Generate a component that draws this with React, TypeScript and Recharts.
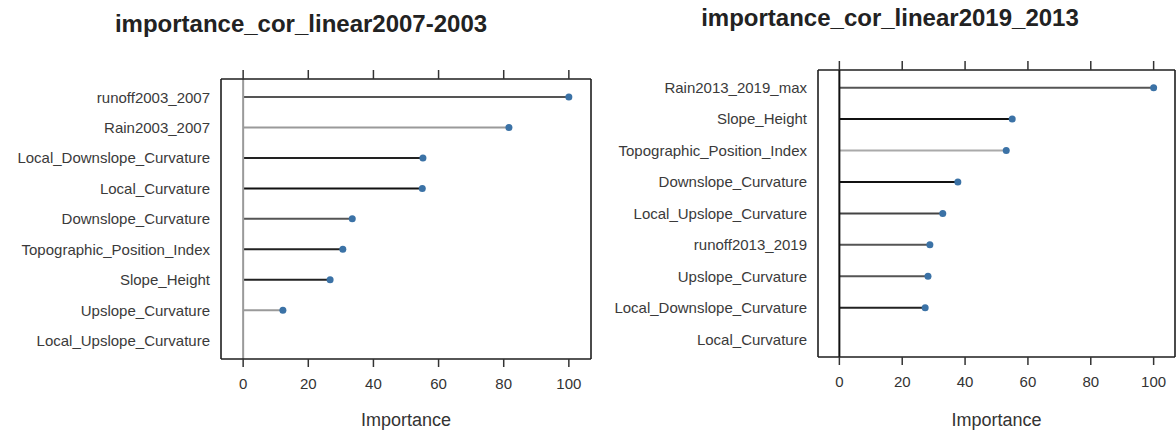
import React from 'react';
import { BarChart, Bar, XAxis, YAxis, ReferenceLine } from 'recharts';

// feature names, top to bottom, as listed in each panel
const leftFeatures = [
  'runoff2003_2007',
  'Rain2003_2007',
  'Local_Downslope_Curvature',
  'Local_Curvature',
  'Downslope_Curvature',
  'Topographic_Position_Index',
  'Slope_Height',
  'Upslope_Curvature',
  'Local_Upslope_Curvature',
];
const leftImportance = [100, 81.6, 55.2, 55, 33.5, 30.6, 26.7, 12.2, 0];

const rightFeatures = [
  'Rain2013_2019_max',
  'Slope_Height',
  'Topographic_Position_Index',
  'Downslope_Curvature',
  'Local_Upslope_Curvature',
  'runoff2013_2019',
  'Upslope_Curvature',
  'Local_Downslope_Curvature',
  'Local_Curvature',
];
const rightImportance = [100, 55, 53.1, 37.7, 32.9, 28.8, 28.2, 27.3, 0];

const xTicks = [0, 20, 40, 60, 80, 100];

// stem shades (the original has uneven grey/black stems)
const leftStems = ['#555', '#9a9a9a', '#222', '#111', '#555', '#222', '#222', '#9a9a9a', '#555'];
const rightStems = ['#555', '#111', '#aaa', '#111', '#444', '#555', '#555', '#222', '#555'];

const FONT = '"Liberation Sans", Arial, sans-serif';
const DOMAIN: [number, number] = [-6.8, 106.8];

const toRows = (names: string[], values: number[]) =>
  names.map((name, i) => ({ name, value: values[i] }));

function makeLollipop(stems: string[]) {
  return function Lollipop(props: any) {
    const { x, y, width, height, index, value } = props;
    const cy = y + height / 2;
    if (!value) return null;
    return (
      <g>
        <line x1={x} y1={cy} x2={x + width} y2={cy} stroke={stems[index]} strokeWidth={2} />
        <circle cx={x + width} cy={cy} r={3.5} fill="#3b72a6" />
      </g>
    );
  };
}

const NoLabel = () => <g />;

interface PanelProps {
  rows: { name: string; value: number }[];
  stems: string[];
  width: number;
  top: number;
  yWidth: number;
  bottomH: number;
  yPad: number;
  zeroColor: string;
}

function Panel({ rows, stems, width, top, yWidth, bottomH, yPad, zeroColor }: PanelProps) {
  const box = { stroke: '#1e1e1e', strokeWidth: 1.6 };
  const ticks = { stroke: '#333', strokeWidth: 1.5 };
  return (
    <BarChart
      width={width}
      height={430}
      data={rows}
      layout="vertical"
      margin={{ top, right: 0, bottom: 0, left: 0 }}
      style={{ fontFamily: FONT }}
    >
      <XAxis
        xAxisId="bottom"
        type="number"
        orientation="bottom"
        domain={DOMAIN}
        allowDataOverflow
        ticks={xTicks}
        height={bottomH}
        tickSize={8}
        tickMargin={11}
        axisLine={box}
        tickLine={ticks}
        tick={{ fill: '#333', fontSize: 15 }}
        label={{ value: 'Importance', position: 'insideBottom', offset: 4, fill: '#333', fontSize: 18 }}
      />
      <XAxis
        xAxisId="top"
        type="number"
        orientation="top"
        domain={DOMAIN}
        allowDataOverflow
        ticks={xTicks}
        height={9}
        tickSize={9}
        tick={NoLabel}
        axisLine={box}
        tickLine={ticks}
      />
      <YAxis
        yAxisId="left"
        type="category"
        dataKey="name"
        width={yWidth}
        padding={{ top: yPad, bottom: yPad }}
        tickLine={false}
        tickMargin={5}
        axisLine={box}
        tick={{ fill: '#3a3a3a', fontSize: 15 }}
        interval={0}
      />
      <YAxis
        yAxisId="right"
        orientation="right"
        type="category"
        dataKey="name"
        width={1}
        tick={NoLabel}
        tickLine={false}
        axisLine={box}
      />
      <ReferenceLine x={0} xAxisId="bottom" yAxisId="left" stroke={zeroColor} strokeWidth={2} />
      <Bar
        dataKey="value"
        xAxisId="bottom"
        yAxisId="left"
        shape={makeLollipop(stems)}
        isAnimationActive={false}
      />
    </BarChart>
  );
}

const titleStyle: React.CSSProperties = {
  position: 'absolute',
  textAlign: 'center',
  fontFamily: FONT,
  fontWeight: 'bold',
  fontSize: 24,
  lineHeight: '24px',
  color: '#222',
};

export default function App() {
  return (
    <div style={{ position: 'absolute', left: 0, top: 0, width: 1176, height: 430, background: '#fff', overflow: 'hidden' }}>
      <div style={{ ...titleStyle, left: 0, width: 602, top: 12 }}>importance_cor_linear2007-2003</div>
      <div style={{ ...titleStyle, left: 600, width: 580, top: 6 }}>importance_cor_linear2019_2013</div>
      <div style={{ position: 'absolute', left: 0, top: 0 }}>
        <Panel
          rows={toRows(leftFeatures, leftImportance)}
          stems={leftStems}
          width={592}
          top={70}
          yWidth={221}
          bottomH={71}
          yPad={3}
          zeroColor="#9a9a9a"
        />
      </div>
      <div style={{ position: 'absolute', left: 590, top: 0 }}>
        <Panel
          rows={toRows(rightFeatures, rightImportance)}
          stems={rightStems}
          width={586}
          top={61}
          yWidth={228}
          bottomH={73}
          yPad={2}
          zeroColor="#111"
        />
      </div>
    </div>
  );
}
